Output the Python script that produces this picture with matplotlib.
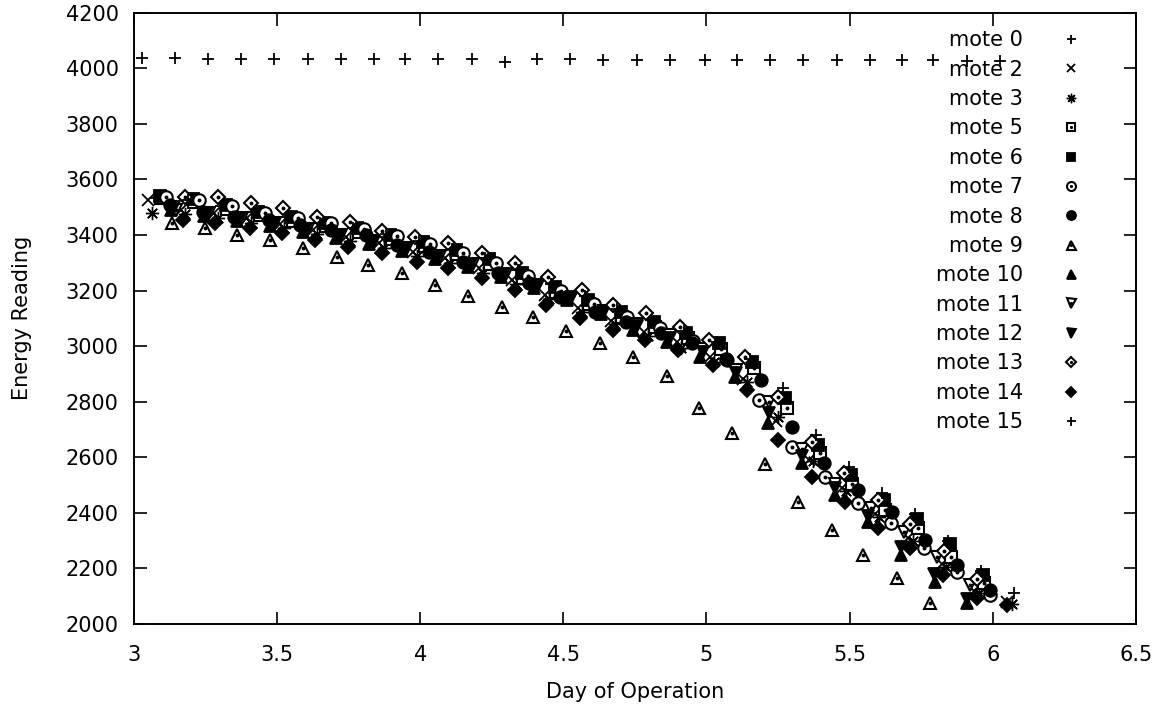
import matplotlib
matplotlib.use("Agg")
import matplotlib.pyplot as plt
from matplotlib.legend_handler import HandlerTuple
from matplotlib.ticker import FuncFormatter

# energy readings per mote (day of operation, reading)
mote0_day = [3.028, 3.143, 3.258, 3.374, 3.489, 3.608, 3.723, 3.838, 3.947, 4.062, 4.181, 4.296, 4.408, 4.523,
             4.638, 4.757, 4.872, 4.994, 5.106, 5.221, 5.337, 5.455, 5.571, 5.683, 5.791, 5.909, 6.025]
mote0_val = [4038, 4036, 4034, 4034, 4034, 4033, 4033, 4033, 4032, 4032, 4032, 4022, 4032, 4032,
             4031, 4031, 4031, 4030, 4030, 4030, 4030, 4029, 4029, 4029, 4029, 4028, 4028]

mote2_day = [3.049, 3.165, 3.28, 3.395, 3.511, 3.626, 3.742, 3.857, 3.973, 4.088, 4.204, 4.319, 4.435, 4.55,
             4.666, 4.781, 4.897, 5.012, 5.128, 5.243, 5.359, 5.474, 5.59, 5.705, 5.821, 5.936, 6.05]
mote2_val = [3526, 3490, 3478, 3460, 3440, 3418, 3393, 3370, 3340, 3316, 3280, 3238, 3185, 3138,
             3092, 3052, 3015, 2962, 2880, 2730, 2590, 2490, 2395, 2310, 2215, 2120, 2078]

mote3_day = [3.063, 3.179, 3.294, 3.41, 3.525, 3.641, 3.756, 3.872, 3.987, 4.103, 4.218, 4.334, 4.449, 4.565,
             4.68, 4.796, 4.911, 5.027, 5.142, 5.25, 5.373, 5.489, 5.604, 5.72, 5.835, 5.951, 6.066]
mote3_val = [3479, 3475, 3462, 3445, 3425, 3402, 3378, 3352, 3325, 3298, 3262, 3222, 3170, 3122,
             3078, 3035, 2995, 2942, 2870, 2745, 2585, 2480, 2385, 2300, 2205, 2110, 2070]

mote5_day = [3.095, 3.21, 3.325, 3.44, 3.555, 3.67, 3.785, 3.90, 4.015, 4.13, 4.245, 4.36, 4.475, 4.59,
             4.705, 4.82, 4.935, 5.05, 5.165, 5.28, 5.395, 5.51, 5.625, 5.74, 5.855, 5.97]
mote5_val = [3532, 3518, 3495, 3472, 3452, 3432, 3410, 3386, 3360, 3330, 3295, 3245, 3195, 3150,
             3105, 3068, 3028, 2990, 2920, 2777, 2614, 2505, 2410, 2344, 2240, 2146]

mote6_day = [3.09, 3.205, 3.32, 3.435, 3.55, 3.665, 3.78, 3.895, 4.01, 4.125, 4.24, 4.355, 4.47, 4.585,
             4.70, 4.815, 4.93, 5.045, 5.16, 5.275, 5.39, 5.505, 5.62, 5.735, 5.85, 5.965]
mote6_val = [3542, 3530, 3507, 3483, 3465, 3445, 3424, 3400, 3375, 3346, 3315, 3263, 3213, 3166,
             3124, 3087, 3047, 3011, 2942, 2813, 2643, 2535, 2445, 2378, 2288, 2176]

mote7_day = [3.112, 3.227, 3.342, 3.457, 3.572, 3.688, 3.803, 3.918, 4.033, 4.148, 4.263, 4.378, 4.493, 4.608,
             4.723, 4.839, 4.954, 5.069, 5.184, 5.299, 5.414, 5.529, 5.644, 5.759, 5.874, 5.99]
mote7_val = [3538, 3525, 3505, 3480, 3462, 3442, 3420, 3395, 3368, 3336, 3300, 3252, 3200, 3150,
             3105, 3065, 3020, 2955, 2805, 2636, 2528, 2434, 2362, 2272, 2186, 2105]

mote8_day = [3.126, 3.24, 3.35, 3.47, 3.58, 3.69, 3.81, 3.92, 4.03, 4.15, 4.27, 4.38, 4.49, 4.61,
             4.72, 4.84, 4.95, 5.07, 5.19, 5.30, 5.41, 5.53, 5.647, 5.763, 5.875, 5.99]
mote8_val = [3508, 3483, 3465, 3454, 3436, 3418, 3400, 3364, 3339, 3303, 3263, 3227, 3177, 3122,
             3087, 3047, 3011, 2950, 2877, 2708, 2578, 2481, 2402, 2301, 2211, 2121]

mote9_day = [3.133, 3.248, 3.36, 3.475, 3.59, 3.71, 3.817, 3.936, 4.05, 4.167, 4.285, 4.394, 4.51, 4.628,
             4.743, 4.862, 4.973, 5.089, 5.204, 5.32, 5.438, 5.546, 5.665, 5.78]
mote9_val = [3443, 3425, 3400, 3382, 3353, 3321, 3292, 3263, 3220, 3180, 3141, 3105, 3054, 3011,
             2962, 2892, 2777, 2686, 2575, 2438, 2337, 2247, 2164, 2074]

mote10_day = [3.128, 3.244, 3.359, 3.475, 3.59, 3.706, 3.821, 3.937, 4.052, 4.168, 4.283, 4.399, 4.514, 4.63,
              4.743, 4.862, 4.977, 5.10, 5.214, 5.333, 5.45, 5.564, 5.68, 5.80, 5.91]
mote10_val = [3490, 3470, 3452, 3433, 3412, 3390, 3368, 3342, 3315, 3285, 3250, 3210, 3165, 3115,
              3058, 3015, 2960, 2888, 2723, 2578, 2463, 2366, 2247, 2150, 2074]

mote11_day = [3.148, 3.263, 3.378, 3.493, 3.608, 3.723, 3.838, 3.953, 4.068, 4.183, 4.298, 4.413, 4.528, 4.643,
              4.758, 4.873, 4.988, 5.103, 5.218, 5.333, 5.448, 5.575, 5.69, 5.805, 5.92]
mote11_val = [3490, 3478, 3460, 3442, 3422, 3400, 3378, 3352, 3326, 3295, 3260, 3220, 3172, 3125,
              3080, 3040, 2990, 2915, 2800, 2630, 2505, 2416, 2330, 2240, 2139]

mote12_day = [3.14, 3.255, 3.37, 3.486, 3.601, 3.717, 3.832, 3.948, 4.063, 4.179, 4.294, 4.41, 4.525, 4.641,
              4.756, 4.872, 4.987, 5.103, 5.218, 5.334, 5.449, 5.565, 5.68, 5.796, 5.911]
mote12_val = [3500, 3478, 3460, 3440, 3420, 3398, 3376, 3350, 3324, 3294, 3260, 3220, 3176, 3128,
              3072, 3030, 2978, 2905, 2760, 2605, 2490, 2390, 2278, 2178, 2090]

mote13_day = [3.178, 3.293, 3.41, 3.52, 3.64, 3.755, 3.866, 3.98, 4.097, 4.215, 4.33, 4.446, 4.565, 4.673,
              4.79, 4.907, 5.01, 5.134, 5.25, 5.37, 5.48, 5.60, 5.71, 5.83, 5.945]
mote13_val = [3538, 3536, 3515, 3497, 3465, 3447, 3415, 3393, 3371, 3335, 3299, 3249, 3202, 3148,
              3119, 3069, 3022, 2960, 2816, 2654, 2545, 2445, 2360, 2262, 2160]

mote14_day = [3.17, 3.283, 3.405, 3.517, 3.632, 3.747, 3.866, 3.988, 4.097, 4.215, 4.33, 4.44, 4.558, 4.673,
              4.785, 4.90, 5.022, 5.141, 5.25, 5.37, 5.483, 5.60, 5.71, 5.825, 5.944, 6.05]
mote14_val = [3454, 3443, 3425, 3407, 3382, 3357, 3335, 3303, 3281, 3245, 3202, 3148, 3101, 3058,
              3022, 2986, 2931, 2841, 2661, 2528, 2438, 2344, 2272, 2175, 2092, 2067]

mote15_day = [3.072, 3.188, 3.303, 3.419, 3.534, 3.65, 3.765, 3.881, 3.996, 4.112, 4.227, 4.343, 4.458, 4.574,
              4.689, 4.805, 4.92, 5.036, 5.151, 5.267, 5.382, 5.498, 5.613, 5.729, 5.844, 5.96, 6.075]
mote15_val = [3535, 3525, 3505, 3482, 3465, 3445, 3425, 3402, 3378, 3350, 3318, 3275, 3225, 3180,
              3135, 3095, 3055, 3015, 2955, 2849, 2679, 2564, 2470, 2395, 2300, 2190, 2110]

motes = [
    ("mote 0", mote0_day, mote0_val, "+", True),
    ("mote 2", mote2_day, mote2_val, "x", True),
    ("mote 3", mote3_day, mote3_val, (8, 2, 0), True),
    ("mote 5", mote5_day, mote5_val, "s", False),
    ("mote 6", mote6_day, mote6_val, "s", True),
    ("mote 7", mote7_day, mote7_val, "o", False),
    ("mote 8", mote8_day, mote8_val, "o", True),
    ("mote 9", mote9_day, mote9_val, "^", False),
    ("mote 10", mote10_day, mote10_val, "^", True),
    ("mote 11", mote11_day, mote11_val, "v", False),
    ("mote 12", mote12_day, mote12_val, "v", True),
    ("mote 13", mote13_day, mote13_val, "D", False),
    ("mote 14", mote14_day, mote14_val, "D", True),
    ("mote 15", mote15_day, mote15_val, "+", True),
]

# marker sizes roughly matching the gnuplot point sizes
sizes = {"+": 9, "x": 8, "s": 8.5, "o": 9, "^": 9, "v": 9, "D": 7.5}

plt.rcParams['font.family'] = 'DejaVu Sans'
fig = plt.figure(figsize=(11.65, 7.13), dpi=100)
ax = fig.add_axes([0.115, 0.125, 0.86, 0.857])

handles = []
labels = []
for i, (name, days, vals, mk, filled) in enumerate(motes):
    ms = sizes.get(mk, 10) if isinstance(mk, str) else 9.5
    mew = 1.0 if not isinstance(mk, str) else 1.3
    if filled:
        h, = ax.plot(days, vals, linestyle="none", marker=mk, markersize=ms, color="black",
                     markeredgewidth=mew, zorder=3 + i)
        handles.append(h)
    else:
        h, = ax.plot(days, vals, linestyle="none", marker=mk, markersize=ms, color="black",
                     markerfacecolor="white", markeredgewidth=1.5, zorder=3 + i)
        d, = ax.plot(days, vals, linestyle="none", marker="o", markersize=1.8, color="black",
                     zorder=3 + i)
        handles.append((h, d))
    labels.append(name)

ax.set_xlim(3, 6.5)
ax.set_ylim(2000, 4200)
ax.set_xticks([3, 3.5, 4, 4.5, 5, 5.5, 6, 6.5])
ax.set_yticks(range(2000, 4201, 200))
ax.xaxis.set_major_formatter(FuncFormatter(lambda v, p: "%g" % v))
ax.tick_params(direction="in", length=9, width=1.2, top=True, right=True, labelsize=15)
ax.tick_params(axis="x", pad=15)
ax.tick_params(axis="y", pad=11)
for s in ax.spines.values():
    s.set_linewidth(1.4)

ax.set_xlabel("Day of Operation", fontsize=15)
ax.set_ylabel("Energy Reading", fontsize=15)
ax.xaxis.set_label_coords(0.5, -0.111)
ax.yaxis.set_label_coords(-0.112, 0.5)
ax.xaxis.label.set_va("center")
ax.yaxis.label.set_va("center")

leg = ax.legend(handles, labels, loc="upper right", bbox_to_anchor=(0.954, 0.985), borderaxespad=0,
                frameon=False, markerfirst=False, fontsize=15, handlelength=1.0, handletextpad=1.8,
                labelspacing=0.45, numpoints=1, markerscale=0.72,
                handler_map={tuple: HandlerTuple(ndivide=1, pad=0)})

fig.savefig("out.png", dpi=100)
